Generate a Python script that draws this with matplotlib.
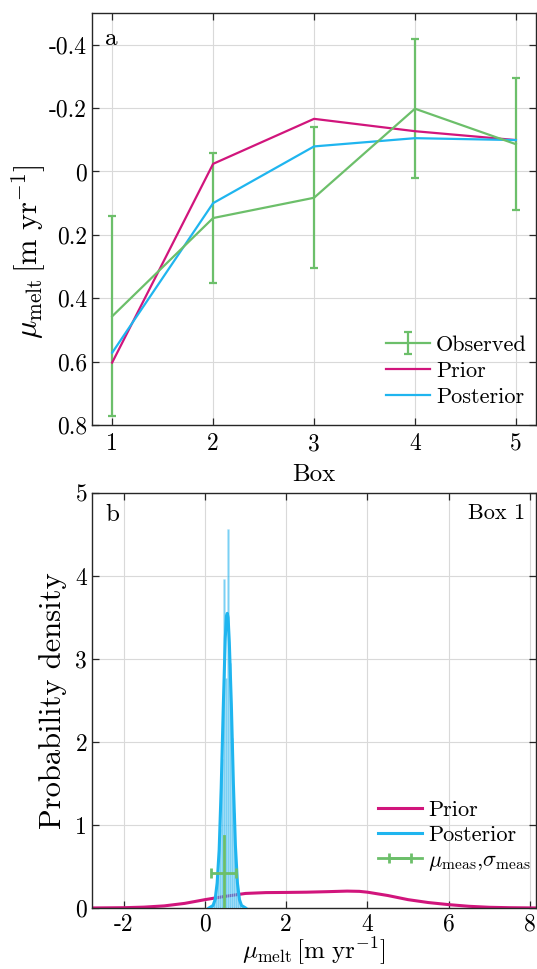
import numpy as np
import matplotlib
matplotlib.use('Agg')
import matplotlib.pyplot as plt

plt.rcParams['font.family'] = ['cmr10', 'DejaVu Serif']
plt.rcParams['mathtext.fontset'] = 'cm'
plt.rcParams['axes.unicode_minus'] = False
plt.rcParams['axes.formatter.use_mathtext'] = True

# panel a: melt per box
boxes = [1, 2, 3, 4, 5]
obs_mean = [0.457, 0.147, 0.083, -0.198, -0.086]
obs_err = [0.316, 0.206, 0.223, 0.219, 0.209]
prior_mean = [0.603, -0.024, -0.166, -0.127, -0.099]
post_mean = [0.572, 0.100, -0.079, -0.105, -0.099]
yticks_a = [-0.4, -0.2, 0, 0.2, 0.4, 0.6, 0.8]
ytick_labels_a = ['-0.4', '-0.2', '0', '0.2', '0.4', '0.6', '0.8']

# panel b: box 1 distributions
hist_centers = [0.167, 0.217, 0.267, 0.317, 0.367, 0.417, 0.467, 0.517,
                0.567, 0.617, 0.667, 0.717, 0.767, 0.817, 0.867]
hist_heights = [0.02, 0.07, 0.16, 0.42, 0.95, 1.8, 3.97, 2.77,
                4.57, 2.95, 2.05, 1.15, 0.52, 0.2, 0.06]
post_x = [0.10, 0.20, 0.25, 0.30, 0.35, 0.40, 0.45, 0.50, 0.53, 0.55,
          0.57, 0.60, 0.65, 0.70, 0.75, 0.80, 0.85, 0.90, 1.00]
post_y = [0.0, 0.03, 0.10, 0.30, 0.70, 1.45, 2.40, 3.25, 3.52, 3.55,
          3.50, 3.20, 2.45, 1.50, 0.75, 0.30, 0.10, 0.03, 0.0]
prior_x = [-2.78, -2.0, -1.5, -1.0, -0.5, 0.0, 0.5, 1.0, 1.5, 2.0, 2.5,
           3.0, 3.5, 3.8, 4.0, 4.5, 5.0, 5.5, 6.0, 6.5, 7.0, 7.5, 8.15]
prior_y = [0.0, 0.003, 0.01, 0.025, 0.055, 0.10, 0.14, 0.175, 0.185,
           0.187, 0.19, 0.196, 0.203, 0.20, 0.19, 0.15, 0.10, 0.065,
           0.04, 0.02, 0.008, 0.003, 0.0]
meas_mu = 0.457
meas_sigma = 0.316
meas_level = 0.425
meas_top = 0.87

green = '#6cbf6a'
magenta = '#d1157c'
blue = '#1fb5ef'
tick_fs = 17
leg_fs = 16

fig = plt.figure(figsize=(5.37, 9.69), dpi=100)
ax1 = fig.add_axes([0.1713, 0.5614, 0.827, 0.4252])
ax2 = fig.add_axes([0.1713, 0.0630, 0.827, 0.4282])

# ---- panel a
h_obs = ax1.errorbar(boxes, obs_mean, yerr=obs_err, color=green, lw=1.6,
                     capsize=3, capthick=1.6, label='Observed')
h_pri, = ax1.plot(boxes, prior_mean, color=magenta, lw=1.6, label='Prior')
h_pos, = ax1.plot(boxes, post_mean, color=blue, lw=1.6, label='Posterior')
ax1.set_xlim(0.8, 5.2)
ax1.set_ylim(0.8, -0.5)
ax1.set_xticks(boxes)
ax1.set_xticklabels([str(b) for b in boxes])
ax1.set_yticks(yticks_a)
ax1.set_yticklabels(ytick_labels_a)
ax1.set_xlabel('Box', fontsize=18, labelpad=6)
ax1.set_ylabel(r'$\mu_{\rm melt}\,[{\rm m\ yr}^{-1}]$', fontsize=22)
ax1.yaxis.set_label_coords(-0.1, 0.42)
ax1.text(0.03, 0.965, 'a', transform=ax1.transAxes, fontsize=18,
         va='top', ha='left')
ax1.legend([h_obs, h_pri, h_pos], ['Observed', 'Prior', 'Posterior'],
           loc='upper left', bbox_to_anchor=(386 / 537, 1 - 335 / 969),
           bbox_transform=fig.transFigure, frameon=False, fontsize=leg_fs,
           handlelength=2.0, borderaxespad=0, borderpad=0,
           labelspacing=0.3, handletextpad=0.25)

# ---- panel b
ax2.plot(prior_x, prior_y, color=magenta, lw=2.2, label='Prior', zorder=2)
ax2.bar(hist_centers, hist_heights, width=0.05, color='#22b2ee', alpha=0.6,
        edgecolor='#bfe9fb', linewidth=0.4, zorder=3)
ax2.plot(post_x, post_y, color=blue, lw=2.2, label='Posterior', zorder=4)
ax2.plot([meas_mu, meas_mu], [0, meas_top], color=green, lw=2, zorder=5)
ax2.errorbar([meas_mu], [meas_level], xerr=[meas_sigma], color=green, lw=2,
             capsize=3.5, capthick=2, zorder=5,
             label=r'$\mu_{\rm meas}$,$\sigma_{\rm meas}$')
ax2.set_xlim(-2.78, 8.15)
ax2.set_ylim(0, 5)
ax2.set_xticks([-2, 0, 2, 4, 6, 8])
ax2.set_xticklabels(['-2', '0', '2', '4', '6', '8'])
ax2.set_yticks([0, 1, 2, 3, 4, 5])
ax2.set_yticklabels(['0', '1', '2', '3', '4', '5'])
ax2.set_xlabel(r'$\mu_{\rm melt}\,[{\rm m\ yr}^{-1}]$', fontsize=18, labelpad=0)
ax2.set_ylabel('Probability density', fontsize=22, labelpad=6)
ax2.text(0.03, 0.975, 'b', transform=ax2.transAxes, fontsize=18,
         va='top', ha='left')
ax2.text(0.975, 0.975, 'Box 1', transform=ax2.transAxes, fontsize=leg_fs,
         va='top', ha='right')
ax2.legend(loc='upper left', bbox_to_anchor=(378 / 537, 1 - 800 / 969),
           bbox_transform=fig.transFigure, frameon=False, fontsize=leg_fs,
           handlelength=2.0, borderaxespad=0, borderpad=0,
           labelspacing=0.25, handletextpad=0.25)

for ax in (ax1, ax2):
    ax.grid(True, color='#d9d9d9', lw=0.8)
    ax.set_axisbelow(True)
    ax.tick_params(direction='in', top=True, right=True, length=5,
                   width=0.9, labelsize=tick_fs, color='#262626')
    for sp in ax.spines.values():
        sp.set_linewidth(1.0)
        sp.set_color('#262626')
ax1.tick_params(axis='x', pad=6)
ax2.tick_params(axis='x', pad=4)

fig.savefig('out.png', dpi=100)
